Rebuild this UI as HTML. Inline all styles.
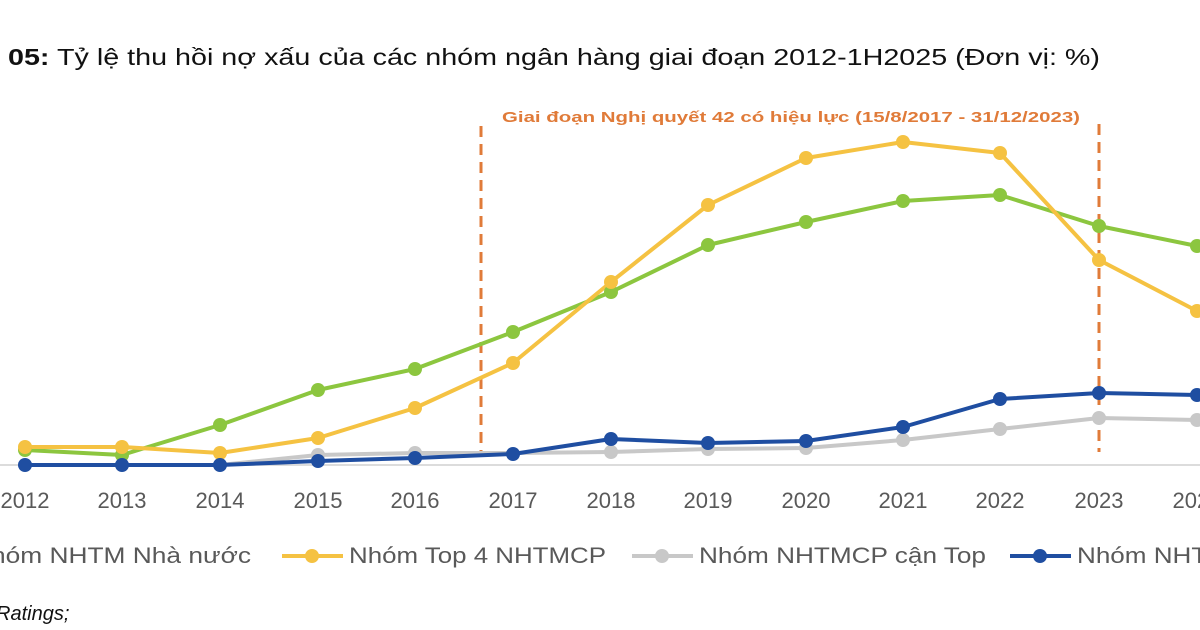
<!DOCTYPE html>
<html><head><meta charset="utf-8"><style>
body{margin:0;background:#fff;width:1200px;height:630px;overflow:hidden}
svg{display:block}
text{font-family:"Liberation Sans",sans-serif}
</style></head><body>
<svg width="1200" height="630" viewBox="0 0 1200 630">
<text x="8" y="65" font-size="23" fill="#111" textLength="1092" lengthAdjust="spacingAndGlyphs"><tspan font-weight="bold">05:</tspan> Tỷ lệ thu hồi nợ xấu của các nhóm ngân hàng giai đoạn 2012-1H2025 (Đơn vị: %)</text>
<line x1="0" y1="465" x2="1200" y2="465" stroke="#d0d0d0" stroke-width="1.5"/>
<g stroke="#e07b39" stroke-width="3" stroke-dasharray="11,7">
<line x1="481" y1="126" x2="481" y2="452"/>
<line x1="1099" y1="124" x2="1099" y2="452"/>
</g>
<text x="502" y="122" font-size="15" font-weight="bold" fill="#e07b39" textLength="578" lengthAdjust="spacingAndGlyphs">Giai đoạn Nghị quyết 42 có hiệu lực (15/8/2017 - 31/12/2023)</text>
<g font-size="22" fill="#595959" text-anchor="middle" font-weight="500">
<text x="25" y="508">2012</text><text x="122" y="508">2013</text><text x="220" y="508">2014</text><text x="318" y="508">2015</text><text x="415" y="508">2016</text><text x="513" y="508">2017</text><text x="611" y="508">2018</text><text x="708" y="508">2019</text><text x="806" y="508">2020</text><text x="903" y="508">2021</text><text x="1000" y="508">2022</text><text x="1099" y="508">2023</text><text x="1197" y="508">2024</text>
</g>
<g fill="none" stroke-width="4" stroke-linejoin="round">
<polyline stroke="#c8c8c8" points="25,465 122,465 220,465 318,455 415,453 513,453 611,452 708,449 806,448 903,440 1000,429 1099,418 1197,420"/>
<polyline stroke="#8cc63f" points="25,450 122,455 220,425 318,390 415,369 513,332 611,292 708,245 806,222 903,201 1000,195 1099,226 1197,246"/>
<polyline stroke="#f5c242" points="25,447 122,447 220,453 318,438 415,408 513,363 611,282 708,205 806,158 903,142 1000,153 1099,260 1197,311"/>
<polyline stroke="#1f4ea1" points="25,465 122,465 220,465 318,461 415,458 513,454 611,439 708,443 806,441 903,427 1000,399 1099,393 1197,395"/>
</g>
<g fill="#c8c8c8"><circle cx="318" cy="455" r="7"/><circle cx="415" cy="453" r="7"/><circle cx="611" cy="452" r="7"/><circle cx="708" cy="449" r="7"/><circle cx="806" cy="448" r="7"/><circle cx="903" cy="440" r="7"/><circle cx="1000" cy="429" r="7"/><circle cx="1099" cy="418" r="7"/><circle cx="1197" cy="420" r="7"/></g>
<g fill="#8cc63f"><circle cx="25" cy="450" r="7"/><circle cx="122" cy="455" r="7"/><circle cx="220" cy="425" r="7"/><circle cx="318" cy="390" r="7"/><circle cx="415" cy="369" r="7"/><circle cx="513" cy="332" r="7"/><circle cx="611" cy="292" r="7"/><circle cx="708" cy="245" r="7"/><circle cx="806" cy="222" r="7"/><circle cx="903" cy="201" r="7"/><circle cx="1000" cy="195" r="7"/><circle cx="1099" cy="226" r="7"/><circle cx="1197" cy="246" r="7"/></g>
<g fill="#f5c242"><circle cx="25" cy="447" r="7"/><circle cx="122" cy="447" r="7"/><circle cx="220" cy="453" r="7"/><circle cx="318" cy="438" r="7"/><circle cx="415" cy="408" r="7"/><circle cx="513" cy="363" r="7"/><circle cx="611" cy="282" r="7"/><circle cx="708" cy="205" r="7"/><circle cx="806" cy="158" r="7"/><circle cx="903" cy="142" r="7"/><circle cx="1000" cy="153" r="7"/><circle cx="1099" cy="260" r="7"/><circle cx="1197" cy="311" r="7"/></g>
<g fill="#1f4ea1"><circle cx="25" cy="465" r="7"/><circle cx="122" cy="465" r="7"/><circle cx="220" cy="465" r="7"/><circle cx="318" cy="461" r="7"/><circle cx="415" cy="458" r="7"/><circle cx="513" cy="454" r="7"/><circle cx="611" cy="439" r="7"/><circle cx="708" cy="443" r="7"/><circle cx="806" cy="441" r="7"/><circle cx="903" cy="427" r="7"/><circle cx="1000" cy="399" r="7"/><circle cx="1099" cy="393" r="7"/><circle cx="1197" cy="395" r="7"/></g>
<g font-size="22" fill="#595959">
<text x="-28" y="563" textLength="279" lengthAdjust="spacingAndGlyphs">Nhóm NHTM Nhà nước</text>
<line x1="282" y1="556" x2="343" y2="556" stroke="#f5c242" stroke-width="4"/><circle cx="312" cy="556" r="7" fill="#f5c242"/>
<text x="349" y="563" textLength="257" lengthAdjust="spacingAndGlyphs">Nhóm Top 4 NHTMCP</text>
<line x1="632" y1="556" x2="693" y2="556" stroke="#c8c8c8" stroke-width="4"/><circle cx="662" cy="556" r="7" fill="#c8c8c8"/>
<text x="699" y="563" textLength="287" lengthAdjust="spacingAndGlyphs">Nhóm NHTMCP cận Top</text>
<line x1="1010" y1="556" x2="1071" y2="556" stroke="#1f4ea1" stroke-width="4"/><circle cx="1040" cy="556" r="7" fill="#1f4ea1"/>
<text x="1077" y="563" textLength="250" lengthAdjust="spacingAndGlyphs">Nhóm NHTMCP khác</text>
</g>
<text x="-4" y="620" font-size="20" font-style="italic" fill="#111">Ratings;</text>
</svg>
</body></html>
